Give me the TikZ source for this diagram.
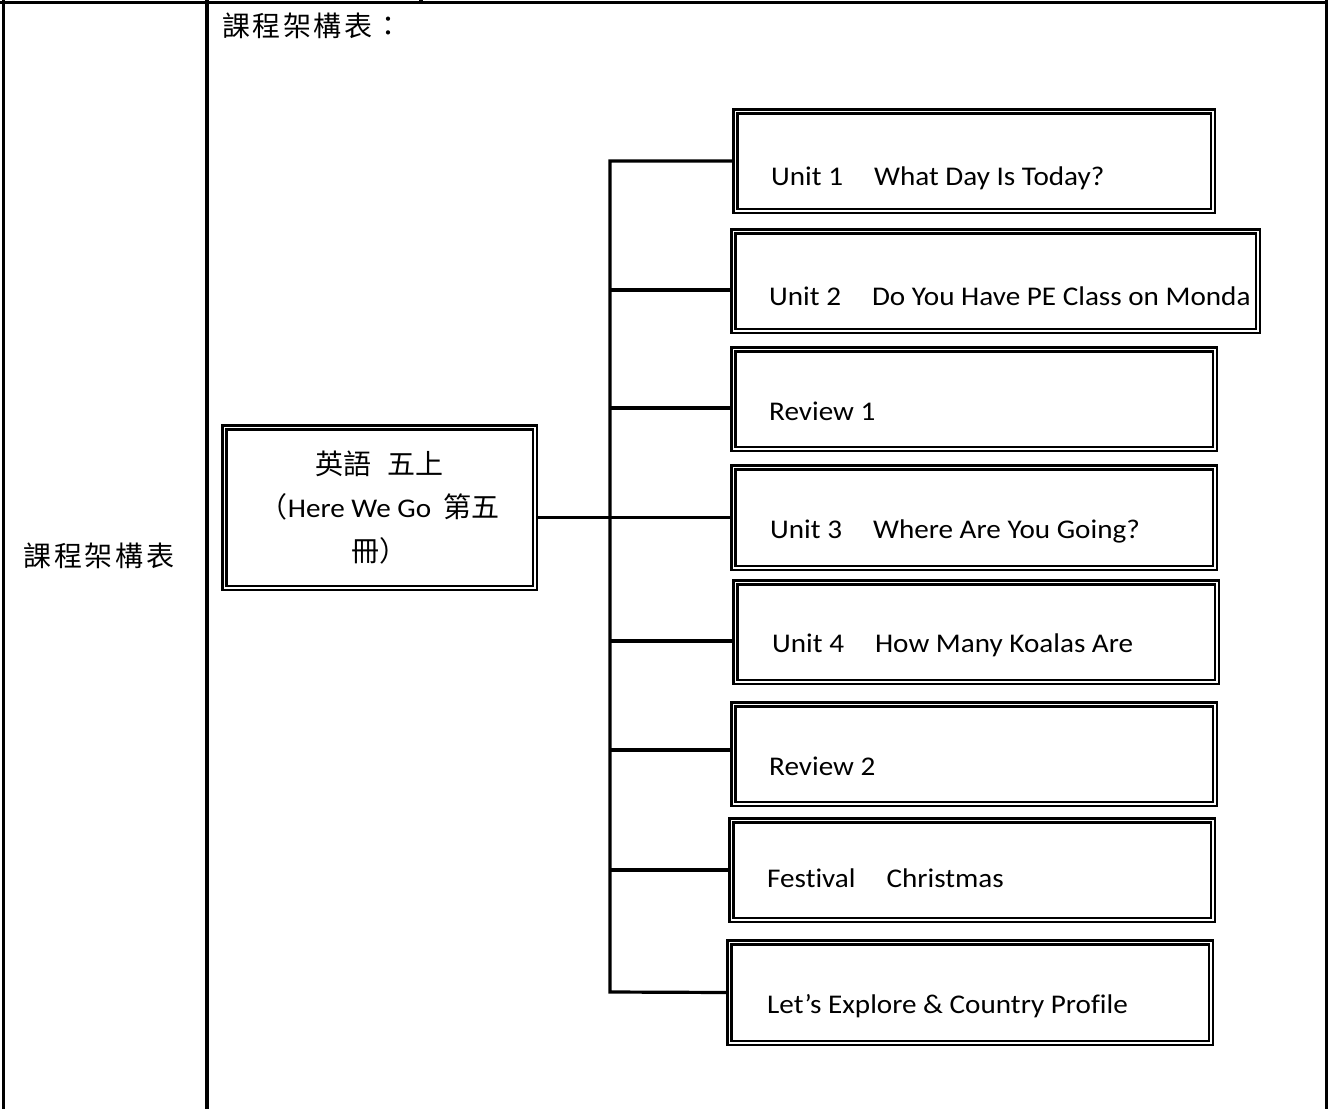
\documentclass[tikz,border=0pt]{standalone}
\usepackage{fontspec}
\setmainfont{Carlito}[FakeStretch=1.08, Ligatures=NoCommon]
\newfontfamily\cjk{Noto Sans CJK TC}[LetterSpace=9]
\newfontfamily\cjkc{Noto Sans CJK TC}
\usetikzlibrary{backgrounds}
\begin{document}
\begin{tikzpicture}[x=1pt,y=-1pt,
  tline/.style={line width=3.2pt},
  conn/.style={line width=3.2pt, line join=miter},
  ubox/.style={draw, double, double distance=1.5pt, line width=2.5pt, inner sep=0pt},
  utext/.style={anchor=base west, inner sep=0pt, font=\fontsize{27}{30}\selectfont},
  hdr/.style={inner sep=0pt, font=\cjk\fontsize{28}{30}\selectfont}
]
\useasboundingbox (0,0) rectangle (1328,1109);

% table frame
\draw[tline] (0,2.5) -- (1328,2.5);
\draw[tline] (3.5,0) -- (3.5,1109);
\draw[tline] (207,0) -- (207,1109);
\draw[tline] (1326.5,0) -- (1326.5,1109);
\draw[tline] (421,0) -- (421,2.5);

\node[hdr, anchor=west] (head) at (222,26) {課程架構表：};
\node[hdr] (cell) at (99,556) {課程架構表};

% centre box
\node[ubox, minimum width=310.5pt, minimum height=160.5pt, align=center,
      font=\fontsize{27}{44.5}\selectfont] (cb) at (379.5,507.5)
  {{\cjkc\fontsize{28}{44.5}\selectfont 英語}\hspace{16pt}{\cjkc\fontsize{28}{44.5}\selectfont 五上}\\[-1pt]{\cjkc\fontsize{28}{44.5}\selectfont （}Here We Go\hspace{12pt}{\cjkc\fontsize{28}{44.5}\selectfont 第五}\\[-1pt]{\cjkc\fontsize{28}{44.5}\selectfont 冊）}};

% unit boxes
\node[ubox, minimum width=477.5pt, minimum height=99.5pt] (u1) at (974,161) {};
\node[ubox, minimum width=524.5pt, minimum height=99.5pt] (u2) at (995.5,281) {};
\node[ubox, minimum width=481.5pt, minimum height=99.5pt] (r1) at (974,399) {};
\node[ubox, minimum width=481.5pt, minimum height=100.5pt] (u3) at (974,517.5) {};
\node[ubox, minimum width=481.5pt, minimum height=99.5pt] (u4) at (976,632) {};
\node[ubox, minimum width=481.5pt, minimum height=99.5pt] (r2) at (974,754) {};
\node[ubox, minimum width=481.5pt, minimum height=99.5pt] (fe) at (972,870) {};
\node[ubox, minimum width=481.5pt, minimum height=100.5pt] (le) at (970,992.5) {};

\node[utext] (t1) at (771,185) {Unit 1\hspace{31pt}What Day Is Today?};
\node[utext] (t2) at (769,305) {Unit 2\hspace{31pt}Do You Have PE Class on Monda};
\node[utext] (t3) at (769,420) {Review 1};
\node[utext] (t4) at (770,538) {Unit 3\hspace{31pt}Where Are You Going?};
\node[utext] (t5) at (772,652) {Unit 4\hspace{31pt}How Many Koalas Are};
\node[utext] (t6) at (769,775) {Review 2};
\node[utext] (t7) at (767,887) {Festival\hspace{31pt}Christmas};
\node[utext] (t8) at (767,1013) {Let’s Explore \& Country Profile};

\begin{pgfonlayer}{background}
\fill[white] (0,0) rectangle (1328,1109);
\coordinate (tb) at (610,992);
\draw[conn] (u1.west) -| (tb) -- (le.west);
\draw[conn] (cb.east |- u3.west) -- (u3.west);
\path ([yshift=-9pt]u2.west) coordinate (e2);
\path ([yshift=-9pt]r1.west) coordinate (e3);
\path ([yshift=-9pt]u4.west) coordinate (e5);
\path ([yshift=4pt]r2.west) coordinate (e6);
\draw[conn] (e2) -- (e2 -| tb);
\draw[conn] (e3) -- (e3 -| tb);
\draw[conn] (e5) -- (e5 -| tb);
\draw[conn] (e6) -- (e6 -| tb);
\draw[conn] (fe.west) -- (fe.west -| tb);
\end{pgfonlayer}
\end{tikzpicture}
\end{document}
